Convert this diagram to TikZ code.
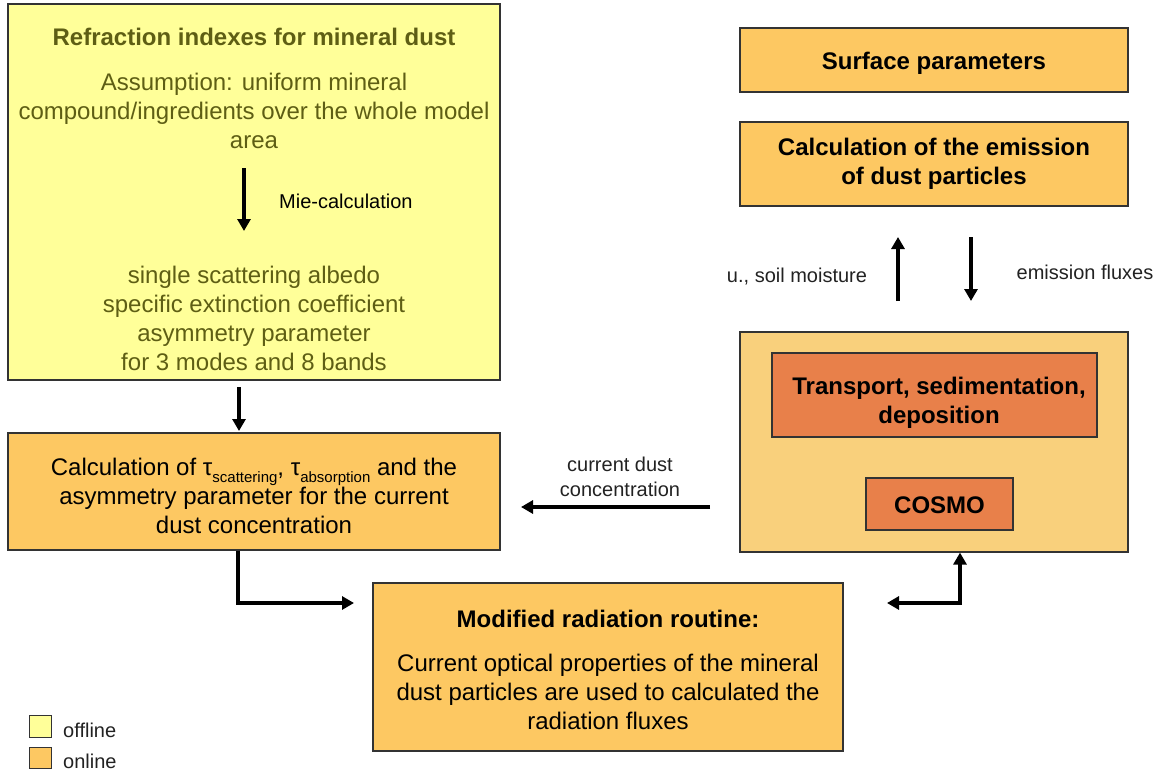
\documentclass[tikz,border=0pt]{standalone}
\usepackage{fontspec}
\setmainfont{Liberation Sans}
\usetikzlibrary{arrows.meta}
\definecolor{offl}{HTML}{FFFF99}
\definecolor{onl}{HTML}{FDC862}
\definecolor{outerc}{HTML}{F9D07C}
\definecolor{inner}{HTML}{E8804A}
\definecolor{olive}{HTML}{5E5E14}
\definecolor{edge}{HTML}{333333}
\definecolor{lab}{HTML}{222222}
\newcommand{\lowsub}[1]{\raisebox{-0.28em}{\fontsize{15}{15}\selectfont #1}}
\tikzset{
  box/.style={draw=edge, line width=1.2pt, rectangle, inner sep=0pt},
  big/.style={font=\fontsize{24}{29}\selectfont, align=center, inner sep=0pt},
  bigb/.style={font=\bfseries\fontsize{24}{29}\selectfont, align=center, inner sep=0pt},
  small/.style={font=\fontsize{20}{25}\selectfont, align=center, inner sep=0pt, text=lab},
  flow/.style={line width=3.4pt, -{Triangle[length=12pt,width=13pt]}},
  flowtwo/.style={line width=3.4pt, {Triangle[length=12pt,width=13pt]}-{Triangle[length=12pt,width=13pt]}},
}
\begin{document}
\begin{tikzpicture}[x=1pt,y=-1pt]
\useasboundingbox (0,0) rectangle (1159,773);
% left column
\node[box, fill=offl, minimum width=492pt, minimum height=376pt] (yel) at (254,192) {};
\node[bigb, text=olive] (ytitle) at (254,37) {Refraction indexes for mineral dust};
\node[big, text=olive] (yass) at (254,111) {Assumption: uniform mineral\\compound/ingredients over the whole model\\area};
\node[big, text=olive] (yres) at (254,318) {single scattering albedo\\specific extinction coefficient\\asymmetry parameter\\for 3 modes and 8 bands};
\coordinate (mieA) at (244,168);
\coordinate (mieB) at (244,231);
\draw[flow] (mieA) -- (mieB);
\node[small, anchor=west, text=black] (mie) at (279,201) {Mie-calculation};

\node[box, fill=onl, minimum width=492pt, minimum height=117pt] (calc) at (254,491.5) {};
\node[big] (calct) at (254,496) {Calculation of τ\lowsub{scattering}, τ\lowsub{absorption} and the\\asymmetry parameter for the current\\dust concentration};
\coordinate (ya) at (239,387);
\draw[flow] (ya) -- (239,431);

\node[box, fill=onl, minimum width=470pt, minimum height=168pt] (mod) at (608,667) {};
\node[bigb] (modt) at (608,619) {Modified radiation routine:};
\node[big] (modb) at (608,692) {Current optical properties of the mineral\\dust particles are used to calculated the\\radiation fluxes};

% right column
\node[box, fill=onl, minimum width=388pt, minimum height=64pt] (surf) at (934,60) {};
\node[bigb] (surft) at (934,63) {Surface parameters};
\node[box, fill=onl, minimum width=388pt, minimum height=84pt] (emis) at (934,164) {};
\node[bigb] (emist) at (934,164) {Calculation of the emission\\of dust particles};
\node[box, fill=outerc, minimum width=388pt, minimum height=220pt] (outer) at (934,442) {};
\node[box, fill=inner, minimum width=325pt, minimum height=84pt] (trans) at (934.5,395) {};
\node[bigb] (transt) at (939,403) {Transport, sedimentation,\\deposition};
\node[box, fill=inner, minimum width=147pt, minimum height=52pt] (cosmo) at (939.5,504) {};
\node[bigb] (cosmot) at (939.5,505) {COSMO};

\coordinate (upA) at (898,301);
\coordinate (upB) at (898,237);
\draw[flow] (upA) -- (upB);
\coordinate (dnA) at (971,237);
\coordinate (dnB) at (971,301);
\draw[flow] (dnA) -- (dnB);
\node[small] (ulab) at (797,277) {u., soil moisture};
\node[small] (elab) at (1085,272) {emission fluxes};

\coordinate (cdA) at (710,507);
\coordinate (cdB) at (521,507);
\draw[flow] (cdA) -- (cdB);
\node[small] (cdlab) at (620,477) {current dust\\concentration};

\coordinate (c1) at (238,603);
\coordinate (c2) at (354,603);
\draw[flow] (calc.south -| c1) -- (c1) -- (c2);
\coordinate (o1) at (960,603);
\coordinate (o2) at (887,603);
\draw[flowtwo] (o2) -- (o1) -- (outer.south -| o1);

% legend
\node[box, line width=0.8pt, fill=offl, minimum width=22pt, minimum height=22pt] (lg1) at (40,726) {};
\node[box, line width=0.8pt, fill=onl, minimum width=22pt, minimum height=21pt] (lg2) at (40,757.5) {};
\node[small, anchor=west] (lt1) at (63,730) {offline};
\node[small, anchor=west] (lt2) at (63,761) {online};
\end{tikzpicture}
\end{document}
